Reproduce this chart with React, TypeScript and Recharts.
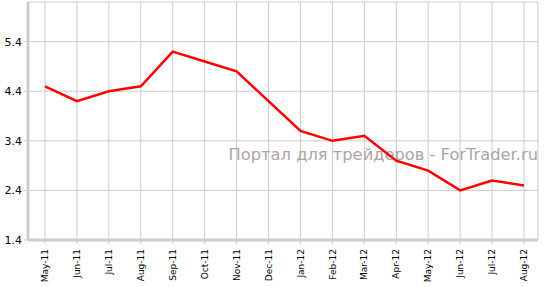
import React from "react";
import { LineChart, Line, XAxis, YAxis, CartesianGrid } from "recharts";

const months = [
  "May-11", "Jun-11", "Jul-11", "Aug-11", "Sep-11", "Oct-11", "Nov-11", "Dec-11",
  "Jan-12", "Feb-12", "Mar-12", "Apr-12", "May-12", "Jun-12", "Jul-12", "Aug-12",
];
const values = [4.5, 4.2, 4.4, 4.5, 5.2, 5.0, 4.8, 4.2, 3.6, 3.4, 3.5, 3.0, 2.8, 2.4, 2.6, 2.5];
const yTicks = [1.4, 2.4, 3.4, 4.4, 5.4];
const watermark = "Портал для трейдеров - ForTrader.ru";

const data = months.map((m, i) => ({ month: m, value: values[i] }));

const XTick = (props: any) => {
  const { x, y, payload } = props;
  return (
    <g transform={`translate(${x},${y + 3})`}>
      <text
        transform="rotate(-90)"
        textAnchor="end"
        dy="0.35em"
        fontSize={9}
        fontFamily="DejaVu Sans, Verdana, sans-serif"
        fill="#000"
      >
        {payload.value}
      </text>
    </g>
  );
};

export default function App() {
  return (
    <div style={{ position: "fixed", left: 0, top: 0, width: 545, height: 287, background: "#fff" }}>
      <LineChart width={545} height={287} data={data} margin={{ top: 2, right: 7, bottom: 0, left: 0 }}>
        <text
          x={538}
          y={159.5}
          textAnchor="end"
          fontSize={16.3}
          fontFamily="DejaVu Sans, Verdana, sans-serif"
          fill="#b0a3a3"
        >
          {watermark}
        </text>
        <CartesianGrid stroke="#cccccc" strokeWidth={1} />
        <XAxis
          dataKey="month"
          interval={0}
          padding={{ left: 17, right: 14 }}
          height={47}
          tickSize={4}
          tickLine={{ stroke: "#cccccc" }}
          axisLine={{ stroke: "#cccccc", strokeWidth: 3 }}
          tick={<XTick />}
        />
        <YAxis
          width={28}
          domain={[1.4, 6.2]}
          ticks={yTicks}
          tickFormatter={(v: number) => v.toFixed(1)}
          tickSize={4}
          tickMargin={2}
          tickLine={{ stroke: "#cccccc" }}
          axisLine={{ stroke: "#cccccc", strokeWidth: 3 }}
          tick={{ fontSize: 11, fill: "#000", fontFamily: "DejaVu Sans, Verdana, sans-serif" }}
          allowDataOverflow
        />
        <Line
          type="linear"
          dataKey="value"
          stroke="#ff0000"
          strokeWidth={2.5}
          dot={false}
          activeDot={false}
          isAnimationActive={false}
        />
      </LineChart>
    </div>
  );
}
